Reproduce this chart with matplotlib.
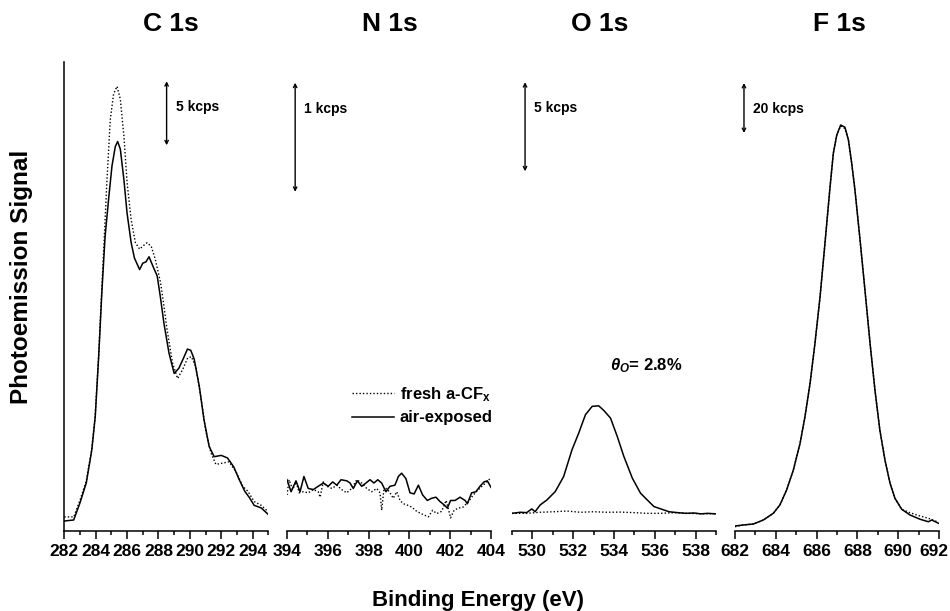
import matplotlib
matplotlib.use("Agg")
import matplotlib.pyplot as plt
from matplotlib.ticker import MultipleLocator
from matplotlib.transforms import ScaledTranslation

plt.rcParams['font.family'] = ['Liberation Sans', 'DejaVu Sans']
plt.rcParams['font.weight'] = 'bold'
plt.rcParams['mathtext.fontset'] = 'custom'
plt.rcParams['mathtext.it'] = 'Liberation Sans:italic:bold'
plt.rcParams['mathtext.rm'] = 'Liberation Sans:bold'
plt.rcParams['mathtext.bf'] = 'Liberation Sans:bold'

# C 1s (kcps)
c_ev_air = [282.0, 282.6, 283.0, 283.4, 283.75, 283.97, 284.19, 284.4, 284.6, 284.84,
            285.04, 285.25, 285.4, 285.57, 285.8, 286.0, 286.26, 286.47, 286.8, 287.0,
            287.2, 287.4, 287.67, 287.92, 288.13, 288.35, 288.67, 289.0, 289.3, 289.6,
            289.85, 290.06, 290.28, 290.6, 290.9, 291.23, 291.55, 292.0, 292.4, 292.8,
            293.15, 293.5, 293.8, 294.1, 294.55, 294.99]
c_air = [0.78, 0.86, 2.2, 3.75, 6.3, 8.9, 13.6, 18.8, 23.0, 26.1,
         28.5, 30.0, 30.4, 29.8, 27.4, 24.8, 22.5, 21.3, 20.4, 20.9,
         21.0, 21.4, 20.6, 19.9, 18.2, 16.2, 13.9, 12.3, 12.7, 13.5,
         14.2, 14.1, 13.4, 11.3, 8.7, 6.6, 5.8, 5.9, 5.7, 5.0,
         4.0, 3.1, 2.6, 2.0, 1.8, 1.3]
c_ev_fresh = [282.0, 282.6, 283.0, 283.4, 283.75, 283.97, 284.19, 284.4, 284.72, 284.93,
              285.14, 285.36, 285.57, 285.8, 286.0, 286.26, 286.53, 286.8, 287.07, 287.28,
              287.54, 287.8, 288.13, 288.3, 288.55, 288.9, 289.22, 289.54, 289.86, 290.1,
              290.38, 290.7, 291.0, 291.34, 291.66, 292.1, 292.5, 292.95, 293.37, 293.7,
              294.1, 294.55, 295.0]
c_fresh = [1.1, 1.1, 2.4, 3.9, 6.4, 9.0, 13.7, 19.1, 27.4, 32.1,
           34.1, 34.7, 33.7, 30.8, 27.2, 24.3, 22.5, 22.0, 22.3, 22.5,
           22.2, 21.2, 19.4, 18.0, 15.7, 13.1, 11.9, 12.6, 13.5, 13.6,
           12.8, 10.5, 7.9, 6.1, 5.2, 5.3, 5.4, 4.6, 3.5, 3.1,
           2.3, 2.0, 1.5]

# N 1s (kcps)
n_ev_air = [394.0, 394.2, 394.44, 394.64, 394.83, 395.04, 395.29, 395.53, 395.78, 396.02,
            396.24, 396.44, 396.65, 396.93, 397.09, 397.25, 397.45, 397.66, 397.87, 398.07,
            398.26, 398.45, 398.64, 398.85, 399.05, 399.29, 399.46, 399.62, 399.83, 400.03,
            400.23, 400.44, 400.65, 400.88, 401.09, 401.3, 401.5, 401.7, 401.86, 402.02,
            402.24, 402.48, 402.73, 402.84, 403.05, 403.26, 403.46, 403.66, 403.82, 404.0]
n_air = [0.47, 0.36, 0.46, 0.36, 0.50, 0.39, 0.38, 0.41, 0.44, 0.41,
         0.45, 0.42, 0.47, 0.46, 0.44, 0.39, 0.46, 0.41, 0.44, 0.47,
         0.44, 0.47, 0.44, 0.36, 0.41, 0.42, 0.50, 0.53, 0.48, 0.35,
         0.34, 0.42, 0.33, 0.28, 0.30, 0.31, 0.27, 0.24, 0.21, 0.28,
         0.28, 0.31, 0.28, 0.25, 0.35, 0.36, 0.41, 0.45, 0.46, 0.40]
n_ev_fresh = [394.0, 394.1, 394.28, 394.44, 394.6, 394.8, 395.04, 395.29, 395.53, 395.62,
              395.78, 395.95, 396.2, 396.44, 396.68, 396.93, 397.17, 397.42, 397.66, 397.91,
              398.15, 398.4, 398.56, 398.64, 398.75, 398.89, 399.05, 399.21, 399.38, 399.54,
              399.7, 399.87, 400.11, 400.36, 400.68, 400.93, 401.14, 401.34, 401.58, 401.8,
              401.9, 402.02, 402.19, 402.4, 402.64, 402.9, 403.13, 403.38, 403.62, 403.79,
              403.95]
n_fresh = [0.33, 0.47, 0.38, 0.45, 0.35, 0.36, 0.35, 0.38, 0.36, 0.31,
           0.45, 0.41, 0.39, 0.42, 0.38, 0.35, 0.39, 0.47, 0.44, 0.39,
           0.36, 0.39, 0.35, 0.19, 0.38, 0.39, 0.35, 0.30, 0.36, 0.28,
           0.25, 0.24, 0.22, 0.18, 0.15, 0.13, 0.19, 0.16, 0.18, 0.28,
           0.21, 0.12, 0.19, 0.21, 0.22, 0.27, 0.33, 0.38, 0.42, 0.45,
           0.48]

# O 1s (kcps)
o_ev_air = [529.0, 529.4, 529.72, 529.97, 530.13, 530.38, 530.71, 531.12, 531.53, 531.94,
            532.27, 532.6, 532.93, 533.25, 533.5, 533.83, 534.16, 534.48, 534.9, 535.3,
            535.71, 535.96, 536.29, 536.7, 537.11, 537.52, 537.93, 538.26, 538.59, 539.0]
o_air = [0.99, 1.05, 1.03, 1.24, 1.08, 1.46, 1.74, 2.21, 3.05, 4.55,
         5.49, 6.52, 6.99, 7.02, 6.76, 6.33, 5.30, 4.19, 2.96, 2.12,
         1.65, 1.37, 1.24, 1.08, 1.03, 0.99, 1.01, 0.96, 0.99, 0.96]
o_ev_fresh = [529.0, 529.72, 530.38, 531.04, 531.69, 532.35, 533.0, 533.66, 534.32, 534.97,
              535.63, 536.29, 536.95, 537.6, 538.26, 539.0]
o_fresh = [0.99, 0.99, 1.05, 1.08, 1.12, 1.05, 1.08, 1.05, 1.06, 1.03,
           0.99, 0.99, 1.03, 0.99, 0.97, 0.97]

# F 1s (kcps)
f_ev = [682.0, 682.4, 682.9, 683.39, 683.88, 684.2, 684.53, 684.86, 685.19, 685.43,
        685.68, 685.92, 686.17, 686.41, 686.66, 686.82, 686.99, 687.18, 687.39, 687.56,
        687.72, 687.88, 688.13, 688.37, 688.62, 688.86, 689.1, 689.35, 689.6, 689.84,
        690.17, 690.58, 691.07, 691.48, 691.64, 691.97]
f_air = [2.0, 2.4, 2.8, 4.4, 7.1, 10.4, 16.4, 24.4, 35.1, 45.7,
         59.1, 75.1, 93.7, 115.1, 137.7, 151.1, 158.4, 162.4, 161.5, 156.4,
         147.1, 136.4, 116.4, 96.4, 75.1, 56.4, 40.4, 28.4, 19.1, 13.1,
         8.7, 6.4, 4.7, 3.7, 4.4, 3.1]
f_fresh = [1.7, 2.4, 2.8, 4.4, 7.1, 10.4, 16.4, 24.4, 35.1, 45.7,
           59.1, 75.1, 93.7, 115.1, 137.7, 151.1, 158.4, 162.0, 161.0, 156.4,
           147.1, 136.4, 116.4, 96.4, 75.1, 56.4, 40.4, 28.4, 19.1, 13.1,
           8.7, 7.3, 6.0, 5.1, 4.6, 3.5]

titles = ['C 1s', 'N 1s', 'O 1s', 'F 1s']
xlims = [(282, 295), (394, 404), (529, 539), (682, 692)]
xticks = [[282, 284, 286, 288, 290, 292, 294],
          [394, 396, 398, 400, 402, 404],
          [530, 532, 534, 536, 538],
          [682, 684, 686, 688, 690, 692]]
ylims = [36.6, 4.30, 26.3, 187.6]
bar_kcps = [5, 1, 5, 20]
bar_labels = ['5 kcps', '1 kcps', '5 kcps', '20 kcps']

fig = plt.figure(figsize=(9.5, 6.11), dpi=100)
W, H = 950.0, 611.0
bottom = 1 - 531 / H
height = (531 - 62) / H
lefts = [64.3, 287, 512, 735]
axes = [fig.add_axes([l / W, bottom, 204 / W, height]) for l in lefts]

data = [(c_ev_fresh, c_fresh, c_ev_air, c_air),
        (n_ev_fresh, n_fresh, n_ev_air, n_air),
        (o_ev_fresh, o_fresh, o_ev_air, o_air),
        (f_ev, f_fresh, f_ev, f_air)]

# scale bar x position and top (kcps) per panel
bar_x = [288.52, 394.4, 529.64, 682.44]
bar_top = [35.1, 4.11, 25.17, 179.2]

for i, ax in enumerate(axes):
    xf, yf, xa, ya = data[i]
    ax.plot(xf, yf, color='black', lw=1.0, ls=(0, (1, 1.5)), label='fresh a-CF$_\\mathbf{x}$')
    ax.plot(xa, ya, color='black', lw=1.1, label='air-exposed')
    ax.set_xlim(*xlims[i])
    ax.set_ylim(0, ylims[i])
    ax.set_xticks(xticks[i])
    ax.xaxis.set_minor_locator(MultipleLocator(1))
    ax.tick_params(axis='x', which='major', direction='out', length=6, width=1.1,
                   labelsize=12.5, pad=3)
    ax.tick_params(axis='x', which='minor', direction='out', length=3, width=1.1)
    for lbl in ax.get_xticklabels():
        lbl.set_fontweight('bold')
    ax.set_yticks([])
    ax.spines['top'].set_visible(False)
    ax.spines['right'].set_visible(False)
    ax.spines['bottom'].set_linewidth(1.1)
    if i == 0:
        ax.spines['left'].set_linewidth(1.1)
    else:
        ax.spines['left'].set_visible(False)
    ax.patch.set_alpha(0)

    # scale bar
    ax.annotate('', xy=(bar_x[i], bar_top[i]), xytext=(bar_x[i], bar_top[i] - bar_kcps[i]),
                arrowprops=dict(arrowstyle='<->', lw=1.0, color='black', mutation_scale=6,
                                shrinkA=0, shrinkB=0))
    ax.annotate(bar_labels[i], xy=(bar_x[i], bar_top[i]), xytext=(9, -26),
                textcoords='offset pixels', ha='left', va='center',
                fontsize=10, fontweight='bold')

    fig.text([171, 390, 600, 839][i] / W, 1 - 24 / H, titles[i],
             ha='center', va='center', fontsize=19, fontweight='bold')

# keep the last tick label ("692") inside the figure edge
last = axes[3].xaxis.get_major_ticks()[-1].label1
last.set_transform(last.get_transform() + ScaledTranslation(-4 / 72, 0, fig.dpi_scale_trans))

axes[2].text(535.6, 9.27, '$\\theta_O$= 2.8%', ha='center', va='center',
             fontsize=12, fontweight='bold')

axes[1].legend(loc='upper left', bbox_to_anchor=(352 / W, 1 - 385 / H),
               bbox_transform=fig.transFigure, frameon=False, fontsize=12,
               handlelength=2.5, handletextpad=0.35, labelspacing=0.4,
               borderpad=0, borderaxespad=0)

fig.text(22 / W, 1 - 277 / H, 'Photoemission Signal', rotation=90,
         ha='center', va='center', fontsize=17.5, fontweight='bold')
fig.text(478 / W, 1 - 590 / H, 'Binding Energy (eV)', ha='center', va='top',
         fontsize=16, fontweight='bold')

fig.savefig('out.png', dpi=100)
